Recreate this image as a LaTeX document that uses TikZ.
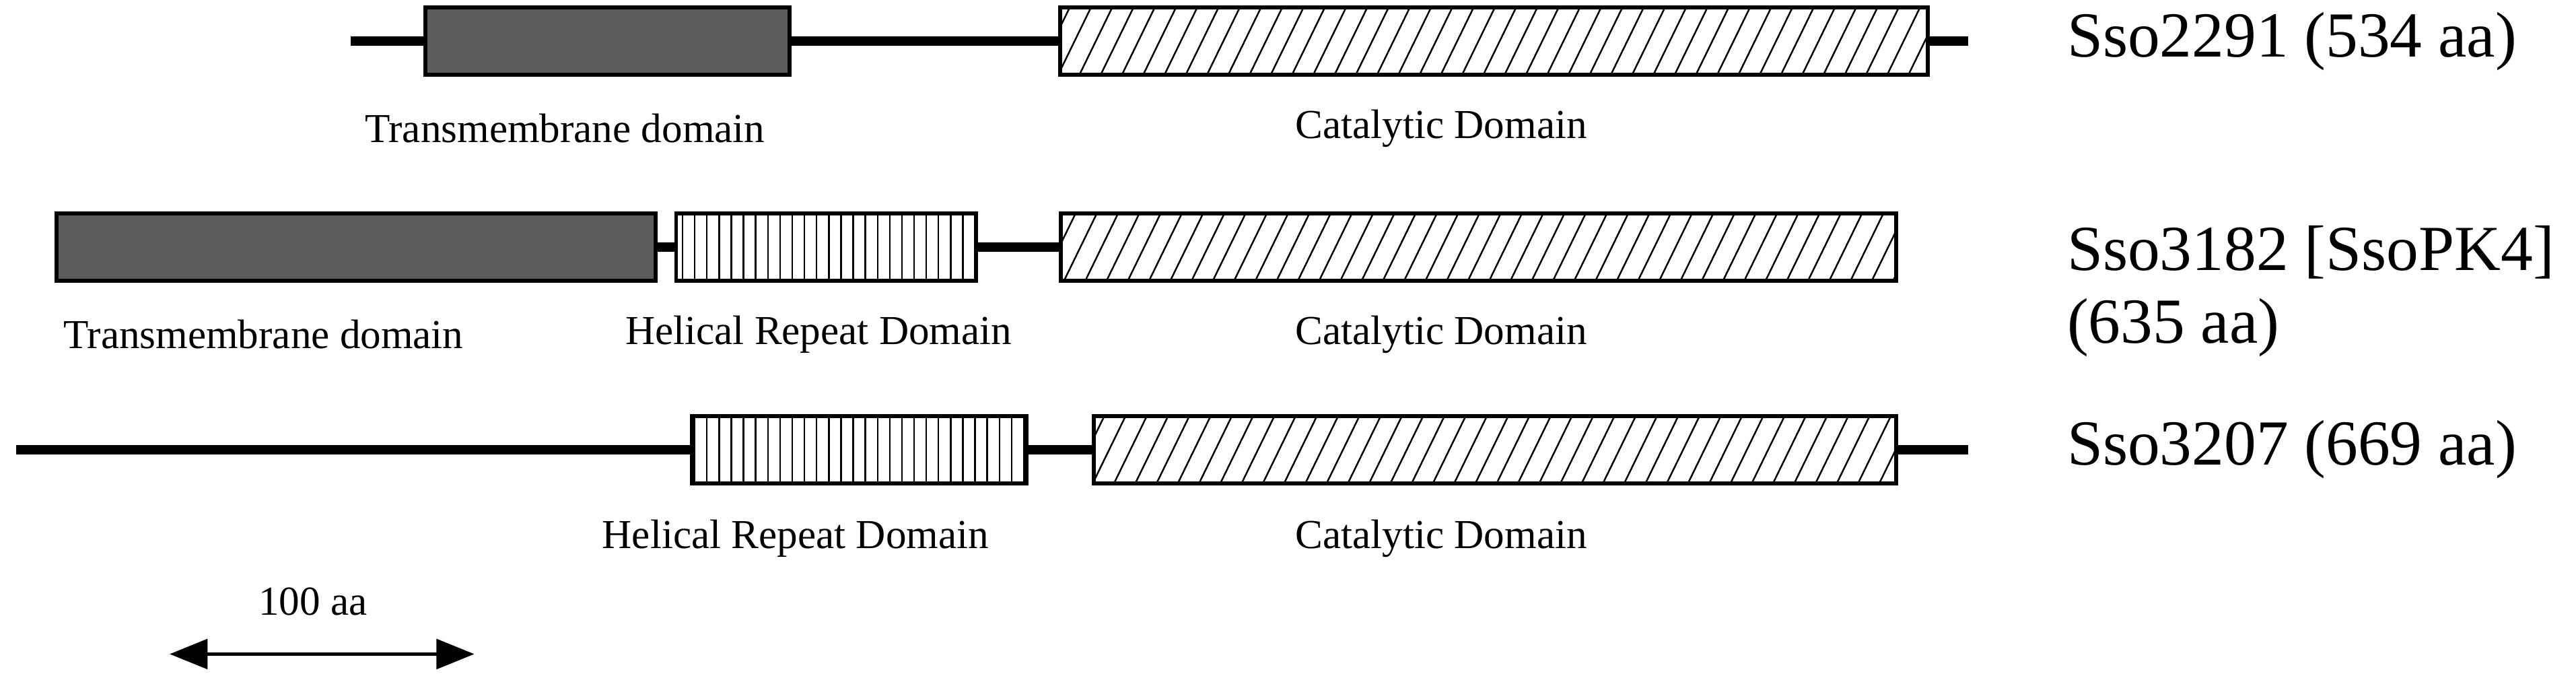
\documentclass[tikz,border=0pt]{standalone}
\usepackage{fontspec}
\setmainfont{Liberation Serif}
\usetikzlibrary{patterns.meta,arrows.meta}
\begin{document}
\begin{tikzpicture}[x=0.5pt,y=-0.5pt,
  bb/.style={draw,line width=1.2pt,inner sep=0pt,minimum height=20.5pt,anchor=west},
  tm/.style={bb,fill=black!64},
  cat/.style={bb,pattern={Lines[angle=64,distance=5.8pt,line width=0.5pt]}},
  hel/.style={bb,pattern={Lines[angle=90,distance=3.7pt,line width=0.5pt]}},
  bk/.style={line width=3pt},
  lab/.style={font=\fontsize{12.5}{14}\selectfont},
  pname/.style={font=\fontsize{19.5}{22}\selectfont,anchor=west,align=left}]
\useasboundingbox (0,0) rectangle (1564,410);
% Row 1
\coordinate (s1) at (213,25); \coordinate (e1) at (1195,25);
\node[tm,minimum width=110.5pt] (tm1) at (257,25) {};
\node[cat,minimum width=263.5pt] (c1) at (643,25) {};
\draw[bk] (s1) -- (tm1.west) (tm1.east) -- (c1.west) (c1.east) -- (e1);
\node[pname] (n1) at (1248,25) {Sso2291 (534 aa)};
\node[lab] (l1a) at (343,78) {Transmembrane domain};
\node[lab] (l1b) at (875,78) {Catalytic Domain};
% Row 2
\node[tm,minimum width=182pt] (tm2) at (33,150) {};
\node[hel,minimum width=91pt] (h2) at (410,150) {};
\node[cat,minimum width=253.5pt] (c2) at (643,150) {};
\draw[bk] (tm2.east) -- (h2.west) (h2.east) -- (c2.west);
\node[pname,anchor=north west] (n2) at (1248,130) {Sso3182 [SsoPK4]\\(635 aa)};
\node[lab] (l2a) at (160,203) {Transmembrane domain};
\node[lab] (l2b) at (497,203) {Helical Repeat Domain};
\node[lab] (l2c) at (875,203) {Catalytic Domain};
% Row 3
\coordinate (s3) at (10,273); \coordinate (e3) at (1195,273);
\node[hel,minimum width=101.5pt] (h3) at (419,273) {};
\node[cat,minimum width=243.5pt] (c3) at (663,273) {};
\draw[bk] (s3) -- (h3.west) (h3.east) -- (c3.west) (c3.east) -- (e3);
\node[pname] (n3) at (1248,273) {Sso3207 (669 aa)};
\node[lab] (l3a) at (483,327) {Helical Repeat Domain};
\node[lab] (l3b) at (875,327) {Catalytic Domain};
% Scale
\coordinate (a1) at (103,397); \coordinate (a2) at (288,397);
\draw[line width=1.1pt,{Triangle[length=11.5pt,width=9pt]}-{Triangle[length=11.5pt,width=9pt]}] (a1) -- (a2);
\node[lab] (sc) at (190,365) {100 aa};
\end{tikzpicture}
\end{document}
